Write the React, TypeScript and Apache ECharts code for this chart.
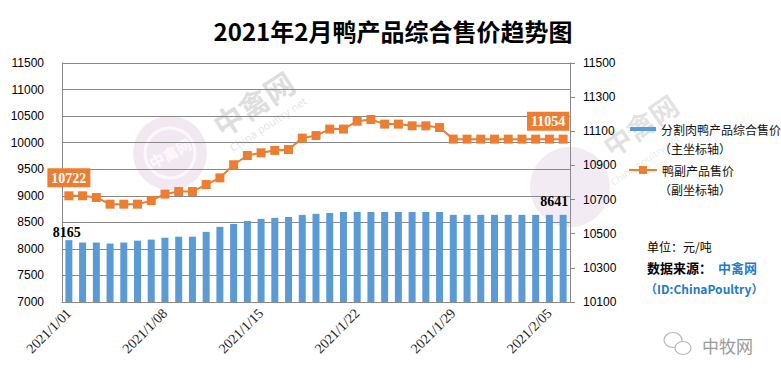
import React, { useEffect, useRef } from 'react';
import * as echarts from 'echarts';

const titleText = '2021年2月鸭产品综合售价趋势图';
const barName = '分割肉鸭产品综合售价';
const lineName = '鸭副产品售价';

const dates = [
  '2021/1/01', '2021/1/02', '2021/1/03', '2021/1/04', '2021/1/05', '2021/1/06', '2021/1/07',
  '2021/1/08', '2021/1/09', '2021/1/10', '2021/1/11', '2021/1/12', '2021/1/13', '2021/1/14',
  '2021/1/15', '2021/1/16', '2021/1/17', '2021/1/18', '2021/1/19', '2021/1/20', '2021/1/21',
  '2021/1/22', '2021/1/23', '2021/1/24', '2021/1/25', '2021/1/26', '2021/1/27', '2021/1/28',
  '2021/1/29', '2021/1/30', '2021/1/31', '2021/2/01', '2021/2/02', '2021/2/03', '2021/2/04',
  '2021/2/05', '2021/2/06',
];

const cutMeatPrice = [
  8165, 8120, 8120, 8100, 8120, 8155, 8175,
  8210, 8230, 8230, 8320, 8415, 8470, 8525,
  8565, 8585, 8600, 8640, 8660, 8675, 8695,
  8695, 8695, 8695, 8695, 8695, 8695, 8695,
  8641, 8641, 8641, 8641, 8641, 8641, 8641,
  8641, 8641,
];

const byproductPrice = [
  10722, 10722, 10712, 10673, 10673, 10673, 10694,
  10732, 10747, 10747, 10788, 10827, 10904, 10958,
  10974, 10988, 10993, 11060, 11075, 11113, 11113,
  11159, 11169, 11142, 11142, 11132, 11132, 11122,
  11054, 11054, 11054, 11054, 11054, 11054, 11054,
  11054, 11054,
];

const leftAxis = { min: 7000, max: 11500, interval: 500 };
const rightAxis = { min: 10100, max: 11500, interval: 200 };

const BLUE = '#5B9BD5';
const ORANGE = '#ED7D31';
const GRID = '#898989';
const CJK = '"Noto Sans CJK SC", "Noto Sans", sans-serif';

export default function App() {
  const ref = useRef<HTMLDivElement>(null);

  useEffect(() => {
    if (!ref.current) return;
    const chart = echarts.init(ref.current, undefined, { renderer: 'svg' });
    const last = dates.length - 1;

    const barData = cutMeatPrice.map((v, i) => {
      if (i === 0) {
        return { value: v, label: { show: true, offset: [-2, 1] } };
      }
      if (i === last) {
        return { value: v, label: { show: true, offset: [-9, -4] } };
      }
      return { value: v };
    });

    const lineData = byproductPrice.map((v, i) => {
      if (i === 0) {
        return { value: v, label: { show: true } };
      }
      if (i === last) {
        return { value: v, label: { show: true, offset: [-15, 0] } };
      }
      return { value: v };
    });

    const plain = (v: number) => String(v);

    const option: any = {
      animation: false,
      backgroundColor: '#ffffff',
      title: {
        text: titleText,
        left: 388,
        top: 13,
        textAlign: 'center',
        textStyle: { fontFamily: CJK, fontSize: 24, fontWeight: 'bold', color: '#000' },
      },
      grid: {
        left: 62,
        right: 211,
        top: 63,
        bottom: 75,
        containLabel: false,
        outerBoundsMode: 'none',
      },
      legend: [
        {
          left: 630,
          top: 123,
          padding: 0,
          itemWidth: 26,
          itemHeight: 4,
          data: [{ name: barName, icon: 'rect' }],
          textStyle: { fontFamily: CJK, fontSize: 12, color: '#111' },
        },
        {
          left: 628,
          top: 164,
          padding: 0,
          itemWidth: 28,
          itemHeight: 10,
          data: [{ name: lineName }],
          textStyle: { fontFamily: CJK, fontSize: 12, color: '#111' },
        },
      ],
      xAxis: {
        type: 'category',
        data: dates,
        boundaryGap: true,
        axisLine: { show: true, lineStyle: { color: GRID, width: 1 } },
        axisTick: { show: false },
        axisLabel: {
          interval: 6,
          rotate: 45,
          margin: 9,
          fontFamily: '"Liberation Serif", serif',
          fontSize: 14,
          color: '#222',
        },
      },
      yAxis: [
        {
          type: 'value',
          min: leftAxis.min,
          max: leftAxis.max,
          interval: leftAxis.interval,
          axisLine: { show: true, lineStyle: { color: GRID } },
          axisTick: { show: false },
          splitLine: { show: true, lineStyle: { color: GRID, width: 1 } },
          axisLabel: {
            margin: 18,
            formatter: plain,
            fontFamily: '"Liberation Sans", Arial, sans-serif',
            fontSize: 12,
            color: '#000',
          },
        },
        {
          type: 'value',
          position: 'right',
          min: rightAxis.min,
          max: rightAxis.max,
          interval: rightAxis.interval,
          axisLine: { show: true, lineStyle: { color: GRID } },
          axisTick: { show: true, length: 5, inside: false, lineStyle: { color: GRID } },
          splitLine: { show: false },
          axisLabel: {
            margin: 13,
            formatter: plain,
            fontFamily: '"Liberation Sans", Arial, sans-serif',
            fontSize: 12,
            color: '#000',
          },
        },
      ],
      series: [
        {
          name: barName,
          type: 'bar',
          yAxisIndex: 0,
          barWidth: 7,
          itemStyle: { color: BLUE },
          label: {
            show: false,
            position: 'top',
            distance: 2,
            fontFamily: '"Liberation Serif", serif',
            fontWeight: 'bold',
            fontSize: 14,
            color: '#000',
          },
          data: barData,
          z: 2,
        },
        {
          name: lineName,
          type: 'line',
          yAxisIndex: 1,
          symbol: 'rect',
          symbolSize: 9,
          lineStyle: { color: ORANGE, width: 2 },
          itemStyle: { color: ORANGE },
          label: {
            show: false,
            position: 'top',
            distance: 4,
            backgroundColor: ORANGE,
            padding: [3, 4, 2, 4],
            fontFamily: '"Liberation Serif", serif',
            fontWeight: 'bold',
            fontSize: 14,
            color: '#fff',
          },
          data: lineData,
          z: 3,
        },
      ],
      graphic: [
        {
          type: 'circle',
          shape: { cx: 170, cy: 153, r: 37 },
          style: { fill: 'rgba(226,205,224,0.45)' },
          z: -10,
          silent: true,
        },
        {
          type: 'circle',
          shape: { cx: 170, cy: 153, r: 25 },
          style: { fill: 'none', stroke: 'rgba(255,255,255,0.7)', lineWidth: 3 },
          z: -9,
          silent: true,
        },
        {
          type: 'text',
          x: 170,
          y: 153,
          rotation: 0.5,
          style: { text: '中禽网', fill: 'rgba(255,255,255,0.8)', font: 'bold 15px "Noto Sans CJK SC"', align: 'center', verticalAlign: 'middle' },
          z: -9,
          silent: true,
        },
        {
          type: 'text',
          x: 253,
          y: 103,
          rotation: 0.58,
          style: { text: '中禽网', fill: 'rgba(140,140,140,0.3)', font: 'bold 30px "Noto Sans CJK SC"', align: 'center', verticalAlign: 'middle' },
          z: -9,
          silent: true,
        },
        {
          type: 'text',
          x: 268,
          y: 124,
          rotation: 0.58,
          style: { text: 'China poultry net', fill: 'rgba(140,140,140,0.25)', font: '11px "Noto Sans"', align: 'center', verticalAlign: 'middle' },
          z: -9,
          silent: true,
        },
        {
          type: 'circle',
          shape: { cx: 570, cy: 187, r: 40 },
          style: { fill: 'rgba(226,205,224,0.4)' },
          z: -10,
          silent: true,
        },
        {
          type: 'text',
          x: 640,
          y: 125,
          rotation: 0.6,
          style: { text: '中禽网', fill: 'rgba(140,140,140,0.25)', font: 'bold 28px "Noto Sans CJK SC"', align: 'center', verticalAlign: 'middle' },
          z: -9,
          silent: true,
        },
        {
          type: 'text',
          x: 645,
          y: 160,
          rotation: 0.6,
          style: { text: 'China poultry net', fill: 'rgba(140,140,140,0.2)', font: '10px "Noto Sans"', align: 'center', verticalAlign: 'middle' },
          z: -9,
          silent: true,
        },
        {
          type: 'text',
          x: 659,
          y: 148,
          style: { text: '（主坐标轴）', fill: '#111', font: '12px "Noto Sans CJK SC"', verticalAlign: 'middle' },
        },
        {
          type: 'text',
          x: 659,
          y: 189,
          style: { text: '（副坐标轴）', fill: '#111', font: '12px "Noto Sans CJK SC"', verticalAlign: 'middle' },
        },
        {
          type: 'text',
          x: 647,
          y: 246,
          style: { text: '单位：元/吨', fill: '#000', font: '12px "Noto Sans CJK SC"', verticalAlign: 'middle' },
        },
        {
          type: 'text',
          x: 647,
          y: 267,
          style: { text: '数据来源：', fill: '#000', font: 'bold 13px "Noto Sans CJK SC"', verticalAlign: 'middle' },
        },
        {
          type: 'text',
          x: 718,
          y: 267,
          style: { text: '中禽网', fill: '#1F7BC8', font: 'bold 13px "Noto Sans CJK SC"', verticalAlign: 'middle' },
        },
        {
          type: 'text',
          x: 645,
          y: 288,
          style: { text: '（ID:ChinaPoultry）', fill: '#1F7BC8', font: 'bold 12px "Noto Sans CJK SC"', verticalAlign: 'middle' },
        },
        {
          type: 'ellipse',
          shape: { cx: 673, cy: 340, rx: 9, ry: 7.5 },
          style: { fill: 'none', stroke: '#b8b8b8', lineWidth: 1.2 },
        },
        {
          type: 'ellipse',
          shape: { cx: 683, cy: 348, rx: 8, ry: 6.5 },
          style: { fill: '#fff', stroke: '#b8b8b8', lineWidth: 1.2 },
        },
        {
          type: 'text',
          x: 702,
          y: 345,
          style: { text: '中牧网', fill: '#9a9a9a', font: '17px "Noto Sans CJK SC"', verticalAlign: 'middle' },
        },
      ],
    };

    chart.setOption(option);
    return () => {
      chart.dispose();
    };
  }, []);

  return (
    <div
      ref={ref}
      style={{ position: 'fixed', left: 0, top: 0, width: 781, height: 377, background: '#fff' }}
    />
  );
}
